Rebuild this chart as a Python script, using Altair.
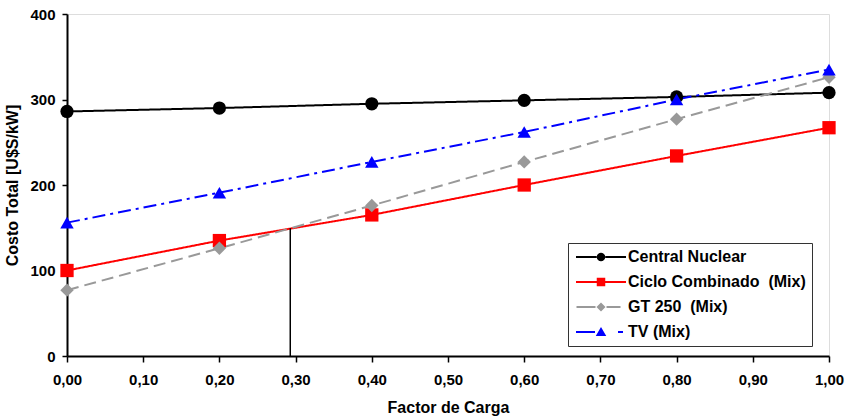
import altair as alt
import pandas as pd

# ---- data ----
factor_carga = [0.0, 0.2, 0.4, 0.6, 0.8, 1.0]
series = ["Central Nuclear", "Ciclo Combinado\u00a0 (Mix)", "GT 250\u00a0 (Mix)", "TV (Mix)"]
central_nuclear = [286, 290, 295, 299, 303, 308]
ciclo_combinado = [100, 135, 165, 200, 234, 267]
gt_250 = [77, 126, 176, 227, 277, 326]
tv_mix = [156, 191, 227, 262, 300, 335]
cruce_x = [0.293]
cruce_y = [149.5]
x_ticks = [0.0, 0.1, 0.2, 0.3, 0.4, 0.5, 0.6, 0.7, 0.8, 0.9, 1.0]
y_ticks = [0, 100, 200, 300, 400]

# ---- styles ----
colors = ["#000000", "#FF0000", "#999999", "#0000FF"]
dashes = [[1, 0], [1, 0], [12, 6], [13, 5, 3, 5]]
shapes = ["circle", "square", "diamond", "triangle-up"]
marker_sizes = [175, 180, 145, 210]
legend_paths = [
    "M-5,-0.2H-0.8V0.2H-5Z M0.8,-0.2H5V0.2H0.8Z M-0.85,0A0.85,0.85,0,1,0,0.85,0A0.85,0.85,0,1,0,-0.85,0Z",
    "M-5,-0.2H-0.8V0.2H-5Z M0.8,-0.2H5V0.2H0.8Z M-0.85,-0.85H0.85V0.85H-0.85Z",
    "M-4.9,-0.2H-1.1V0.2H-4.9Z M1.1,-0.2H3.9V0.2H1.1Z M0,-0.9L0.9,0L0,0.9L-0.9,0Z",
    "M-5,-0.2H-1.2V0.2H-5Z M3.4,-0.2H4.4V0.2H3.4Z M0,-1.0L1.05,0.8H-1.05Z",
]

FONT = "Liberation Sans"
FS_TICK = 15
FS_TEXT = 16

rows = []
for name, vals in zip(series, [central_nuclear, ciclo_combinado, gt_250, tv_mix]):
    for xv, yv in zip(factor_carga, vals):
        rows.append({"serie": name, "fc": xv, "costo": yv})
df = pd.DataFrame(rows)
df_cruce = pd.DataFrame({"fc": cruce_x, "costo": cruce_y})

x_enc = alt.X(
    "fc:Q",
    scale=alt.Scale(domain=[0, 1], nice=False, zero=False),
    axis=alt.Axis(
        title="Factor de Carga",
        values=x_ticks,
        labelExpr="replace(format(datum.value, '.2f'), '.', ',')",
        grid=False,
        domainColor="black", domainWidth=2,
        tickColor="black", tickWidth=1.5, tickSize=6,
        labelFont=FONT, labelFontSize=FS_TICK, labelFontWeight="bold", labelColor="black",
        labelPadding=10, labelFlush=False,
        titleFont=FONT, titleFontSize=FS_TEXT, titleFontWeight="bold", titleColor="black",
        titlePadding=12,
    ),
)
y_enc = alt.Y(
    "costo:Q",
    scale=alt.Scale(domain=[0, 400], nice=False),
    axis=alt.Axis(
        title="Costo Total [U$S/kW]",
        values=y_ticks,
        grid=False,
        domainColor="black", domainWidth=2,
        tickColor="black", tickWidth=1.5, tickSize=5,
        labelFont=FONT, labelFontSize=FS_TICK, labelFontWeight="bold", labelColor="black",
        labelPadding=7,
        titleFont=FONT, titleFontSize=FS_TEXT, titleFontWeight="bold", titleColor="black",
        titlePadding=9,
    ),
)

color_scale = alt.Scale(domain=series, range=colors)

lines = alt.Chart(df).mark_line(strokeWidth=2).encode(
    x=x_enc,
    y=y_enc,
    color=alt.Color("serie:N", scale=color_scale, legend=None),
    strokeDash=alt.StrokeDash("serie:N", scale=alt.Scale(domain=series, range=dashes), legend=None),
)

cruce = alt.Chart(df_cruce).mark_rule(color="black", strokeWidth=1.5).encode(
    x="fc:Q", y="costo:Q", y2=alt.datum(0)
)

markers = alt.Chart(df).mark_point(filled=True, opacity=1).encode(
    x="fc:Q",
    y="costo:Q",
    color=alt.Color("serie:N", scale=color_scale, legend=None),
    shape=alt.Shape("serie:N", scale=alt.Scale(domain=series, range=shapes), legend=None),
    size=alt.Size("serie:N", scale=alt.Scale(domain=series, range=marker_sizes), legend=None),
)

legend_def = dict(
    title=None, orient="none", legendX=501, legendY=229, direction="vertical",
    padding=6, fillColor="white", strokeColor="#333333", cornerRadius=0,
    labelFont=FONT, labelFontSize=FS_TEXT, labelFontWeight="bold", labelColor="black",
    labelOffset=19, symbolOffset=19, symbolSize=100, symbolStrokeWidth=0,
    rowPadding=9, labelLimit=400,
)

legend_layer = alt.Chart(df).transform_filter("false").mark_point(filled=True, opacity=1).encode(
    x="fc:Q",
    y="costo:Q",
    color=alt.Color("serie:N", scale=color_scale, legend=alt.Legend(**legend_def)),
    shape=alt.Shape("serie:N", scale=alt.Scale(domain=series, range=legend_paths),
                    legend=alt.Legend(**legend_def)),
)

chart = (
    alt.layer(lines, cruce, markers, legend_layer)
    .resolve_scale(color="independent", shape="independent")
    .properties(
        width=762, height=342,
        autosize=alt.AutoSizeParams(type="none"),
        padding={"left": 67, "top": 14, "right": 17, "bottom": 61},
        background="white",
    )
    .configure_view(stroke="#666666", strokeWidth=1)
    .configure(font=FONT)
)

chart.save("out.html", embed_options={"renderer": "svg", "actions": False})
